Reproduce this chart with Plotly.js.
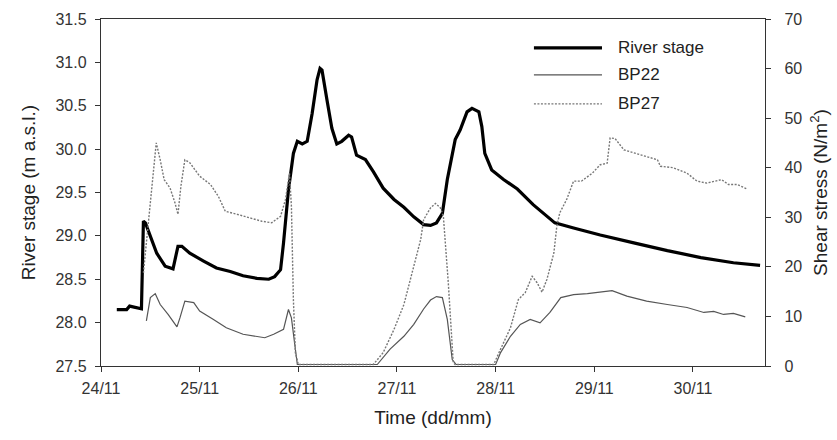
<!DOCTYPE html>
<html><head><meta charset="utf-8">
<script src="https://cdn.plot.ly/plotly-3.0.1.min.js"></script>
<style>html,body{margin:0;padding:0;background:#fff}#chart{width:837px;height:440px}</style>
</head><body><div id="chart"></div>
<script>
// time in days since 24/11 00:00
const tickDays = [0,1,2,3,4,5,6];
const tickLabels = ["24/11","25/11","26/11","27/11","28/11","29/11","30/11"];
const seriesNames = ["River stage","BP22","BP27"];

const stageT = [0.16,0.26,0.29,0.40,0.41,0.43,0.45,0.565,0.65,0.73,0.78,0.82,0.90,1.04,1.17,1.31,1.44,1.58,1.70,1.76,1.82,1.85,1.90,1.95,1.99,2.04,2.09,2.14,2.19,2.22,2.24,2.29,2.34,2.39,2.44,2.51,2.54,2.59,2.68,2.76,2.86,2.97,3.07,3.17,3.27,3.34,3.40,3.46,3.51,3.59,3.64,3.71,3.76,3.83,3.86,3.89,3.96,4.08,4.22,4.38,4.52,4.60,4.79,5.06,5.40,5.74,6.08,6.41,6.68];
const stageV = [28.15,28.15,28.19,28.16,28.16,29.17,29.15,28.80,28.65,28.62,28.88,28.88,28.80,28.71,28.63,28.59,28.54,28.51,28.50,28.53,28.61,28.92,29.53,29.95,30.09,30.06,30.09,30.41,30.80,30.93,30.91,30.57,30.24,30.06,30.09,30.16,30.14,29.93,29.88,29.74,29.55,29.42,29.33,29.22,29.13,29.12,29.15,29.26,29.65,30.11,30.22,30.43,30.47,30.43,30.26,29.95,29.76,29.65,29.54,29.36,29.22,29.15,29.09,29.01,28.92,28.83,28.75,28.69,28.66];

const bp22T = [0.46,0.50,0.55,0.60,0.68,0.77,0.80,0.85,0.94,1.00,1.14,1.27,1.44,1.66,1.75,1.85,1.90,1.93,1.97,1.99,2.40,2.80,2.93,3.07,3.17,3.27,3.34,3.40,3.46,3.51,3.56,3.60,3.80,4.00,4.05,4.15,4.25,4.35,4.45,4.55,4.66,4.79,4.93,5.06,5.18,5.33,5.53,5.74,5.94,6.11,6.21,6.31,6.41,6.53];
const bp22V = [9.1,13.8,14.6,12.4,10.4,7.9,9.7,13.1,12.8,11.1,9.4,7.7,6.4,5.7,6.4,7.4,11.4,9.7,3.4,0.3,0.3,0.3,3.4,6.0,8.4,11.5,13.3,14.0,13.8,9.4,1.3,0.3,0.3,0.3,2.7,6.0,8.4,9.4,8.7,10.8,13.8,14.4,14.6,14.9,15.2,14.1,13.1,12.4,11.8,10.8,11.0,10.4,10.6,9.9];

const bp27T = [0.43,0.47,0.51,0.56,0.60,0.64,0.70,0.75,0.78,0.81,0.85,0.90,1.00,1.11,1.19,1.26,1.38,1.52,1.63,1.73,1.82,1.87,1.91,1.93,1.95,1.97,2.00,2.40,2.76,2.86,2.97,3.07,3.15,3.24,3.27,3.34,3.39,3.44,3.47,3.52,3.57,3.59,3.80,3.98,4.05,4.15,4.23,4.30,4.37,4.42,4.47,4.52,4.59,4.62,4.65,4.72,4.79,4.87,4.98,5.06,5.13,5.16,5.21,5.30,5.40,5.53,5.64,5.67,5.80,5.94,6.04,6.14,6.22,6.29,6.36,6.45,6.55];
const bp27V = [18.8,26.9,36.3,45.0,41.6,37.6,35.9,32.9,30.6,36.3,41.6,41.0,38.3,36.6,34.2,31.2,30.6,29.9,29.2,28.9,30.2,33.6,38.9,32.2,13.4,2.7,0.3,0.3,0.3,2.7,7.4,12.4,18.8,25.5,29.5,31.9,32.8,31.9,30.2,16.8,0.7,0.3,0.3,0.3,3.4,7.7,13.4,14.8,18.1,16.8,14.9,17.5,22.8,28.2,30.9,33.6,37.3,37.3,38.9,40.6,40.9,46.0,45.9,43.6,43.0,42.3,41.6,40.3,40.0,38.9,37.3,36.9,37.3,37.6,36.6,36.6,35.7];

const F = '"Liberation Sans", Arial, sans-serif';
const lineStyles = [
  {color: '#000', width: 3.2},
  {color: '#555', width: 1.2},
  {color: '#777', width: 1.4, dash: '2px,1.5px'}
];
const traces = [
  {x: stageT, y: stageV, name: seriesNames[0], type: 'scatter', mode: 'lines', line: lineStyles[0], yaxis: 'y'},
  {x: bp22T, y: bp22V, name: seriesNames[1], type: 'scatter', mode: 'lines', line: lineStyles[1], yaxis: 'y2'},
  {x: bp27T, y: bp27V, name: seriesNames[2], type: 'scatter', mode: 'lines', line: lineStyles[2], yaxis: 'y2'}
];

// custom legend (longer line samples as in the reference)
const legY = [0.9165, 0.8388, 0.7554];
const shapes = [], annotations = [];
seriesNames.forEach((n, i) => {
  shapes.push({type: 'line', xref: 'paper', yref: 'paper', x0: 0.652, x1: 0.7545, y0: legY[i], y1: legY[i],
    line: lineStyles[i]});
  annotations.push({xref: 'paper', yref: 'paper', x: 0.7756, y: legY[i], xanchor: 'left', yanchor: 'middle',
    text: n, showarrow: false, font: {family: F, size: 17, color: '#222'}});
});

const axisCommon = {showgrid: false, zeroline: false, showline: true, linecolor: '#333', linewidth: 1.2,
  ticks: 'outside', ticklen: 5, tickcolor: '#333', tickfont: {family: F, size: 16, color: '#333'}};
const layout = {
  width: 837, height: 440,
  margin: {l: 101, r: 72, t: 19, b: 74},
  paper_bgcolor: '#fff', plot_bgcolor: '#fff',
  showlegend: false,
  shapes: shapes, annotations: annotations,
  xaxis: Object.assign({}, axisCommon, {range: [0, 6.73], tickvals: tickDays, ticktext: tickLabels,
    mirror: true, ticklabelstandoff: 3,
    title: {text: 'Time (dd/mm)', font: {family: F, size: 19, color: '#222'}, standoff: 14}}),
  yaxis: Object.assign({}, axisCommon, {range: [27.5, 31.5], dtick: 0.5, tickformat: '.1f',
    ticklabelstandoff: 5,
    title: {text: 'River stage (m a.s.l.)', font: {family: F, size: 19, color: '#222'}, standoff: 14}}),
  yaxis2: Object.assign({}, axisCommon, {range: [0, 70], dtick: 10, overlaying: 'y', side: 'right',
    ticklabelstandoff: 10,
    title: {text: 'Shear stress (N/m<sup>2</sup>)', font: {family: F, size: 19, color: '#222'}, standoff: 12}})
};
Plotly.newPlot('chart', traces, layout, {displayModeBar: false, staticPlot: true});
</script></body></html>
